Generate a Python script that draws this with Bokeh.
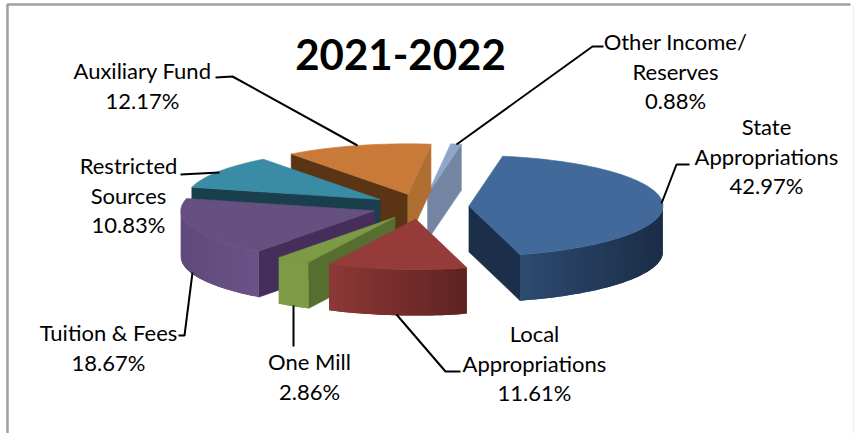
import math
from bokeh.plotting import figure
from bokeh.models import ColumnDataSource, Range1d
from bokeh.core.properties import value
from bokeh.embed import file_html
from bokeh.resources import INLINE

# Funding sources, clockwise from the back of the pie
sources = ["State\nAppropriations", "Local\nAppropriations", "One Mill",
           "Tuition & Fees", "Restricted\nSources", "Auxiliary Fund",
           "Other Income/\nReserves"]
shares = [42.97, 11.61, 2.86, 18.67, 10.83, 12.17, 0.88]
chart_title = "2021-2022"

# Pie geometry in page pixels
CX, CY, RX, RY, DEPTH = 420, 206, 194, 50.5, 46
EXPLODE = 0.25
FIRST_ANGLE = 80.0

top_colors = ["#41699A", "#953B39", "#7D9B44", "#65507F", "#3A8BA5", "#C97A38", "#8FA5C9"]
wall_left = ["#2F4E75", "#8D3836", "#7D9B44", "#5F4A79", "#1A3F4C", "#5A3415", "#7485A4"]
wall_right = ["#1B2D47", "#5E2322", "#7D9B44", "#6B5287", "#1A3F4C", "#5A3415", "#7485A4"]
start_face = ["#1B2F4A", "#5E2322", "#566F30", "#452E59", "#1A3F4C", "#5A3415", "#7485A4"]
end_face = ["#1B2F4A", "#8D3836", "#566F30", "#452E59", "#1A3F4C", "#B06F32", "#7485A4"]

# Label anchors and leader lines, one entry per source
label_xy = [(766, 126), (534, 333), (309, 361), (108, 332), (128, 165), (142, 70), (675, 41)]
leaders = [
    [(689, 164), (676, 164), (661, 203)],
    [(460, 371), (445, 371), (396, 314)],
    [(293, 346), (293, 305)],
    [(178, 335), (184, 335), (192, 272)],
    [(180, 174), (219, 172)],
    [(215, 77), (232, 76), (357, 145)],
    [(603, 46), (592, 46), (456, 144)],
]
LINE_STEP = 29.7


def mix(c1, c2, f):
    a = [int(c1[i:i + 2], 16) for i in (1, 3, 5)]
    b = [int(c2[i:i + 2], 16) for i in (1, 3, 5)]
    return "#%02X%02X%02X" % tuple(round(x + (y - x) * f) for x, y in zip(a, b))


poly_x, poly_y, poly_c, poly_w = [], [], [], []


def add_poly(pts, color, edge=0.6):
    poly_x.append([q[0] for q in pts])
    poly_y.append([q[1] for q in pts])
    poly_c.append(color)
    poly_w.append(edge)


def add_side(a, b, color):
    add_poly([a, b, (b[0], b[1] + DEPTH), (a[0], a[1] + DEPTH)], color)


spans = []
angle = FIRST_ANGLE
total = sum(shares)
for s in shares:
    sweep = s / total * 360
    spans.append((angle, angle - sweep))
    angle -= sweep

# Slices are painted from the back of the pie to the front
order = [6, 5, 4, 3, 2, 1, 0]
for i in order:
    a0, a1 = spans[i]
    mid = math.radians((a0 + a1) / 2)
    ox = CX + EXPLODE * RX * math.cos(mid)
    oy = CY - EXPLODE * RY * math.sin(mid)
    steps = max(3, int(abs(a0 - a1) / 1.5))
    rim = []
    for k in range(steps + 1):
        t = math.radians(a0 + (a1 - a0) * k / steps)
        rim.append((ox + RX * math.cos(t), oy - RY * math.sin(t)))
    apex = (ox, oy)
    # A side face shows only where the clockwise outline runs right to left
    if rim[0][0] < apex[0]:
        add_side(apex, rim[0], start_face[i])
    if apex[0] < rim[-1][0]:
        add_side(rim[-1], apex, end_face[i])
    xmin = min(q[0] for q in rim)
    xmax = max(q[0] for q in rim)
    # Wall bands overlap the next one so no seam shows between them
    front = [k for k in range(steps) if rim[k + 1][0] < rim[k][0]]
    for k in front:
        run = [rim[k], rim[k + 1]]
        if k + 1 in front:
            run.append(rim[k + 2])
        f = ((rim[k][0] + rim[k + 1][0]) / 2 - xmin) / max(xmax - xmin, 1)
        color = mix(wall_left[i], wall_right[i], f)
        add_poly(run + [(q[0], q[1] + DEPTH) for q in reversed(run)], color, 0.0)
    add_poly([apex] + rim, top_colors[i])

p = figure(width=854, height=433, output_backend="svg", toolbar_location=None,
           x_range=Range1d(0, 854), y_range=Range1d(433, 0), min_border=0,
           outline_line_color=None, background_fill_color="white")
p.axis.visible = False
p.grid.visible = False

# Chart frame
p.line([7, 7, 850], [433, 4, 4], line_color="#A0A0A0", line_width=2.5)
p.line([853, 853], [4, 433], line_color="#EEEEEE", line_width=1.5)

src = ColumnDataSource(dict(xs=poly_x, ys=poly_y, c=poly_c, w=poly_w))
p.patches("xs", "ys", source=src, fill_color="c", line_color="c", line_width="w")

for pts in leaders:
    p.line([q[0] for q in pts], [q[1] for q in pts], line_color="black", line_width=2)

lx, ly, lt = [], [], []
for name, s, (x, y) in zip(sources, shares, label_xy):
    rows = name.split("\n") + [f"{s:.2f}%"]
    for r, row in enumerate(rows):
        lx.append(x)
        ly.append(y + r * LINE_STEP)
        lt.append(row)
p.text(lx, ly, text=lt, text_font=value("Lato"), text_font_size="22px",
       text_align="center", text_baseline="middle", text_color="black")
p.text([400], [54], text=[chart_title], text_font=value("Lato"), text_font_size="42px",
       text_font_style="bold", text_align="center", text_baseline="middle", text_color="black")

open("out.html", "w").write(file_html(p, INLINE))
